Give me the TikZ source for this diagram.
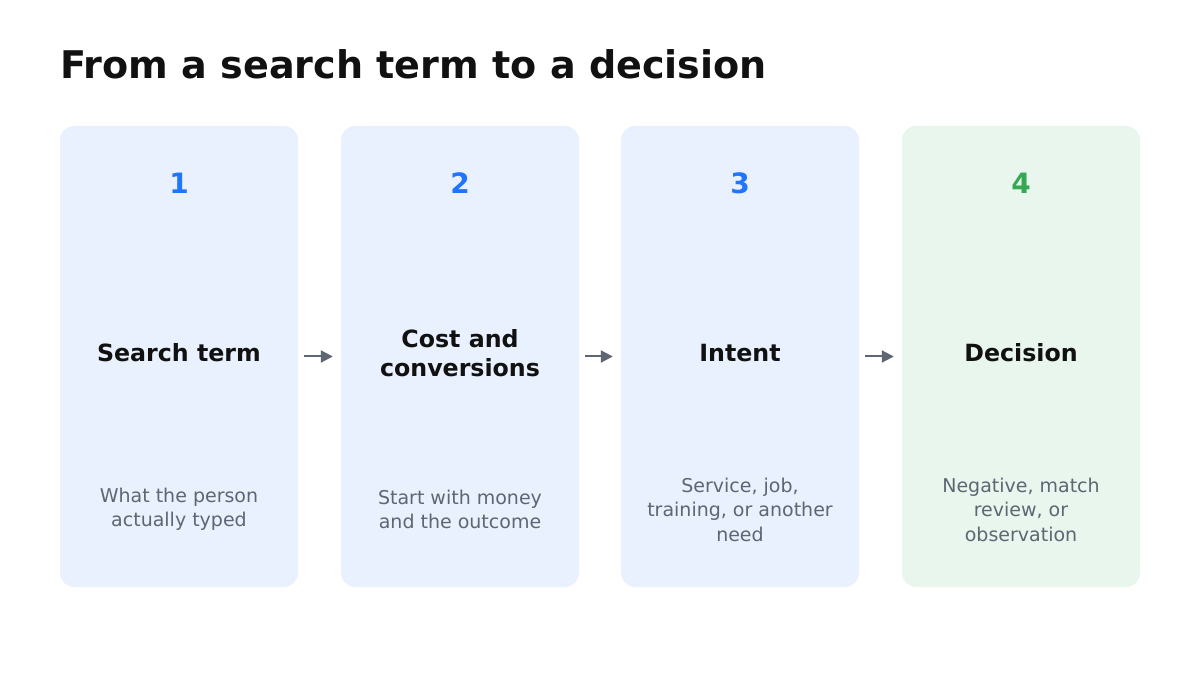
\documentclass[tikz,border=0pt]{standalone}
\usepackage{fontspec}
\setmainfont{DejaVu Sans}
\usetikzlibrary{arrows.meta}
\definecolor{cardblue}{HTML}{EAF1FE}
\definecolor{cardgreen}{HTML}{E8F6EE}
\definecolor{numblue}{HTML}{1F75FE}
\definecolor{numgreen}{HTML}{34A853}
\definecolor{inkdark}{HTML}{111111}
\definecolor{inkgray}{HTML}{5F6673}
\begin{document}
\begin{tikzpicture}[x=1pt,y=-1pt,
  card/.style={minimum width=238pt,minimum height=461pt,rounded corners=14pt,inner sep=0pt,draw=none},
  numtext/.style={font=\bfseries\fontsize{28}{30}\selectfont,inner sep=0pt},
  headtext/.style={font=\bfseries\fontsize{23.7}{28.5}\selectfont,text=inkdark,align=center,inner sep=0pt},
  desctext/.style={font=\fontsize{19}{24.5}\selectfont,text=inkgray,align=center,inner sep=0pt},
  flow/.style={draw=inkgray,line width=2pt,-{Triangle[length=12pt,width=12pt]},shorten <=6pt,shorten >=8pt}]
\useasboundingbox (0,0) rectangle (1200,700);
\node[anchor=base west,font=\bfseries\fontsize{38.1}{40}\selectfont,text=inkdark,inner sep=0pt] (title) at (60,79) {From a search term to a decision};
% the four steps
\foreach \i/\x/\fc/\nc/\head/\desc in {
  1/179/cardblue/numblue/{Search term}/{What the person\\actually typed},
  2/460/cardblue/numblue/{Cost and\\conversions}/{Start with money\\and the outcome},
  3/740/cardblue/numblue/{Intent}/{Service, job,\\training, or another\\need},
  4/1021/cardgreen/numgreen/{Decision}/{Negative, match\\review, or\\observation}}{
  \node[card,fill=\fc] (card\i) at (\x,356.5) {};
  \node[numtext,text=\nc] (num\i) at (\x,183.5) {\i};
  \node[headtext] (head\i) at (\x,353) {\head};
  \node[desctext] (desc\i) at (\x,509.5) {\desc};
}
\foreach \i [evaluate=\i as \j using int(\i+1)] in {1,2,3}
  \draw[flow] (card\i.east) -- (card\j.west);
\end{tikzpicture}
\end{document}
